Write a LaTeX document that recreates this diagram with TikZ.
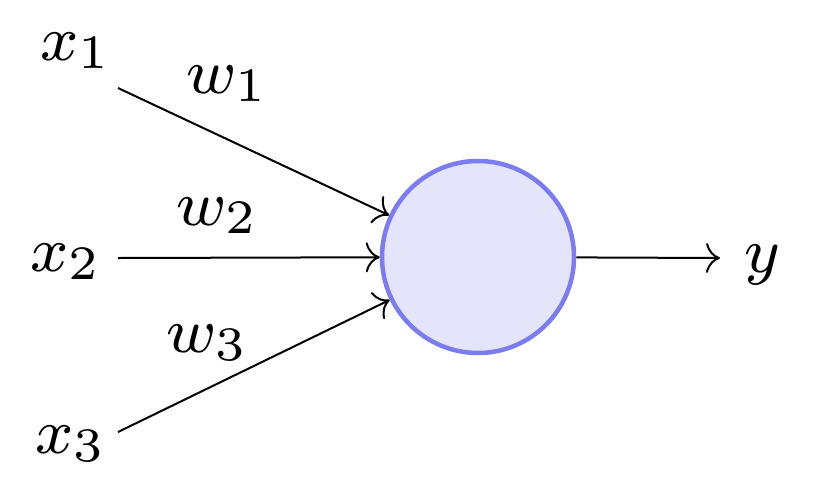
\documentclass[tikz,border=0pt]{standalone}
\usepackage{graphicx}
\usetikzlibrary{arrows.meta}
\definecolor{nfill}{HTML}{E4E4FA}
\definecolor{nborder}{HTML}{7B7BF2}
\newcommand{\biglbl}[1]{\scalebox{8}{\footnotesize$#1$}}
\begin{document}
\begin{tikzpicture}[x=1pt,y=-1pt,
  lbl/.style={inner sep=0pt,anchor=base west},
  conn/.style={line width=2pt,-{To[length=14pt,width=30pt]}},
  neuron/.style={circle,draw=nborder,fill=nfill,line width=4.5pt,minimum size=192pt,inner sep=0pt}]
\useasboundingbox (0,0) rectangle (818,496);
\node[neuron] (n) at (478,257) {};
\node[lbl] (x1) at (40,60) {\biglbl{x_1}};
\node[lbl] (x2) at (30,271) {\biglbl{x_2}};
\node[lbl] (x3) at (35,453) {\biglbl{x_3}};
\node[lbl] (y) at (744,272) {\biglbl{y}};
\node[lbl] (w1) at (186,93) {\biglbl{w_1}};
\node[lbl] (w2) at (176,225) {\biglbl{w_2}};
\node[lbl] (w3) at (166,352) {\biglbl{w_3}};
\coordinate (s1) at (118,88);
\coordinate (s2) at (118,258);
\coordinate (s3) at (118,432);
\coordinate (e) at (720,258);
\draw[conn] (s1) -- (n);
\draw[conn] (s2) -- (n);
\draw[conn] (s3) -- (n);
\draw[conn] (n) -- (e);
\end{tikzpicture}
\end{document}
